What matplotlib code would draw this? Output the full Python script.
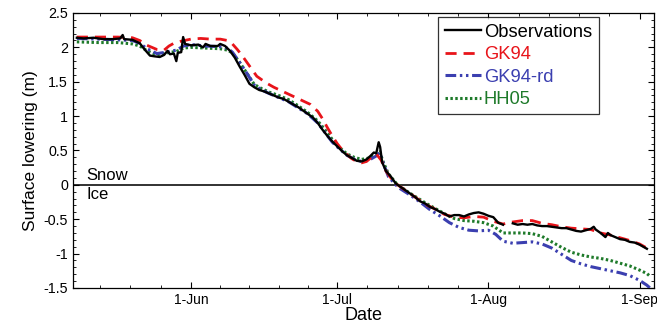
import numpy as np
import matplotlib.pyplot as plt
from matplotlib.ticker import FixedLocator, MultipleLocator

plt.rcParams['font.family'] = ['Liberation Sans', 'DejaVu Sans']

# day of year (non-leap) and surface lowering (m)
obs_day = [128.6, 130, 132, 134, 136, 137.5, 138.0, 138.3, 140, 141.5, 142.5, 143.6, 144.5,
           145.6, 146.5, 147.2, 147.7, 148.5, 149.0, 149.3, 150.0, 150.4, 150.8, 152, 153.5,
           154.5, 155, 156, 157.5, 158, 159, 160, 161, 162, 163, 164, 165, 166, 167, 168, 169,
           170, 171, 172, 173, 174, 175, 176, 177, 178, 179, 180, 181, 182, 183, 184, 185, 186,
           187, 188, 188.8, 189.5, 190.0, 190.5, 190.8, 191.2, 192, 193, 194, 195, 196, 197,
           198, 199, 200, 201, 202, 203, 204, 205, 206, 207, 208, 209, 210, 211, 212, 213, 214,
           215, 216, 216.5, 218, 219, 220, 221, 222, 223, 224, 225, 226, 227, 228, 229, 230,
           231, 232, 233, 234, 234.6, 235, 236, 237, 237.5, 238, 239, 240, 241, 242, 243, 244,
           245, 245.5]
obs_val = [2.14, 2.13, 2.14, 2.12, 2.12, 2.13, 2.18, 2.12, 2.11, 2.06, 1.97, 1.88, 1.87,
           1.86, 1.89, 1.95, 1.90, 1.91, 1.80, 1.92, 1.93, 2.15, 2.05, 2.03, 2.04,
           2.00, 2.05, 2.02, 2.02, 2.05, 2.02, 1.95, 1.85, 1.72, 1.60, 1.47, 1.42, 1.38, 1.36,
           1.33, 1.30, 1.27, 1.25, 1.21, 1.17, 1.13, 1.08, 1.03, 0.98, 0.90, 0.80, 0.71, 0.63,
           0.56, 0.49, 0.43, 0.39, 0.35, 0.34, 0.37, 0.42, 0.47, 0.46, 0.62, 0.55, 0.33, 0.20,
           0.12, 0.02, -0.03, -0.08, -0.13, -0.18, -0.24, -0.27, -0.32, -0.35, -0.39, -0.42,
           -0.46, -0.44, -0.44, -0.46, -0.43, -0.41, -0.40, -0.42, -0.45, -0.47, -0.55, -0.58,
           np.nan, -0.56, -0.58, -0.57, -0.58, -0.57, -0.59, -0.60, -0.60, -0.61, -0.62, -0.63,
           -0.63, -0.65, -0.67, -0.68, -0.66, -0.64, -0.61, -0.65, -0.70, -0.76, -0.70, -0.73,
           -0.76, -0.79, -0.80, -0.83, -0.84, -0.87, -0.91, -0.93]

gk_day = [128.6, 133, 137, 140, 141.5, 143, 145, 146.5, 147.5, 148.5, 150, 152, 154, 156, 158,
          159.5, 160.5, 161.5, 162.5, 163.5, 164.5, 165.5, 166.5, 167.5, 169, 170.5, 172, 173.5,
          175, 176.5, 178, 179, 180, 181, 182, 183, 184, 185, 186, 187, 188, 189, 190, 191, 192,
          193, 194, 196, 198, 200, 202, 204, 206, 208, 210, 212, 214, 216, 218, 220, 222, 224,
          226, 228, 230, 232, 234, 236, 238, 240, 242, 244, 245.5]
gk_val = [2.15, 2.15, 2.15, 2.14, 2.10, 2.03, 1.97, 1.96, 2.02, 2.06, 2.09, 2.12, 2.13, 2.12,
          2.12, 2.10, 2.05, 1.97, 1.88, 1.78, 1.68, 1.58, 1.53, 1.48, 1.42, 1.37, 1.32, 1.27,
          1.22, 1.17, 1.07, 0.96, 0.83, 0.71, 0.60, 0.51, 0.44, 0.38, 0.34, 0.32, 0.34, 0.40,
          0.45, 0.36, 0.20, 0.10, 0.02, -0.08, -0.18, -0.28, -0.35, -0.43, -0.47, -0.48, -0.46,
          -0.47, -0.53, -0.57, -0.54, -0.52, -0.52, -0.56, -0.58, -0.61, -0.63, -0.64, -0.65,
          -0.70, -0.73, -0.77, -0.81, -0.86, -0.92]

rd_day = [128.6, 133, 137, 140, 141.5, 143, 145, 147, 149, 150.5, 152, 155, 158, 159.5, 160.5,
          162, 163.5, 165, 166.5, 168, 170, 172, 174, 176, 178, 179.5, 181, 182.5, 184, 185.5,
          187, 188.5, 190, 190.7, 191.5, 192.5, 194, 195, 197, 199, 201, 203, 205, 207, 209,
          211, 213, 214.5, 216, 218, 220, 222, 224, 226, 228, 230, 232, 234, 236, 238, 240,
          242, 244, 245.5, 246.6]
rd_val = [2.13, 2.12, 2.11, 2.10, 2.06, 1.98, 1.91, 1.93, 1.96, 2.02, 2.04, 2.02, 2.01, 1.99,
          1.93, 1.78, 1.62, 1.45, 1.38, 1.33, 1.27, 1.21, 1.12, 1.03, 0.90, 0.76, 0.62, 0.52,
          0.43, 0.37, 0.34, 0.36, 0.42, 0.47, 0.30, 0.12, 0.00, -0.06, -0.15, -0.25, -0.36,
          -0.45, -0.55, -0.62, -0.66, -0.67, -0.66, -0.72, -0.82, -0.85, -0.84, -0.83, -0.86,
          -0.92, -1.01, -1.10, -1.15, -1.19, -1.22, -1.25, -1.28, -1.32, -1.39, -1.46, -1.53]

hh_day = [128.6, 133, 137, 140, 141.5, 143, 145, 147, 149, 150.5, 152, 155, 158, 159.5, 160.5,
          162, 163.5, 165, 166.5, 168, 170, 172, 174, 176, 178, 179.5, 181, 182.5, 184, 185.5,
          187, 188.5, 190, 190.7, 191.5, 192.5, 194, 196, 198, 200, 202, 204, 206, 208, 210,
          212, 214, 216, 218, 220, 222, 224, 226, 228, 230, 232, 234, 236, 238, 240, 242, 244,
          245.5, 246.3]
hh_val = [2.08, 2.07, 2.07, 2.05, 2.02, 1.95, 1.89, 1.92, 1.94, 1.99, 2.00, 1.99, 1.98, 1.96,
          1.92, 1.78, 1.62, 1.46, 1.40, 1.35, 1.30, 1.24, 1.15, 1.05, 0.93, 0.80, 0.66, 0.54,
          0.45, 0.40, 0.37, 0.39, 0.44, 0.48, 0.32, 0.16, 0.03, -0.08, -0.17, -0.26, -0.34,
          -0.42, -0.49, -0.52, -0.53, -0.55, -0.60, -0.70, -0.70, -0.70, -0.71, -0.75, -0.83,
          -0.91, -0.98, -1.02, -1.05, -1.07, -1.10, -1.14, -1.18, -1.24, -1.29, -1.34]

month_starts = [121, 152, 182, 213, 244, 274]
tick_labels = ['1-Jun', '1-Jul', '1-Aug', '1-Sep']

fig = plt.figure(figsize=(6.57, 3.25), dpi=100)
ax = fig.add_axes([0.111, 0.114, 0.884, 0.846])

ax.axhline(0, color='#222222', lw=1.3, zorder=1)
ax.plot(hh_day, hh_val, color='#1e7a2a', lw=2.2, ls=(0, (0.8, 0.8)), label='HH05', zorder=2)
ax.plot(rd_day, rd_val, color='#3b3fb0', lw=2.2, ls=(0, (3.5, 1.2, 0.8, 1.2, 0.8, 1.2)),
        label='GK94-rd', zorder=3)
ax.plot(gk_day, gk_val, color='#e8141a', lw=2.0, ls=(0, (4, 2.5)), label='GK94', zorder=4)
ax.plot(obs_day, obs_val, color='black', lw=1.7, label='Observations', zorder=5)

ax.set_xlim(127.8, 246.9)
ax.set_ylim(-1.5, 2.5)
ax.set_xticks(month_starts[1:5])
ax.set_xticklabels(tick_labels)
minor = []
for a, b in zip(month_starts[:-1], month_starts[1:]):
    minor += [a + k * (b - a) / 5 for k in range(1, 5)]
ax.xaxis.set_minor_locator(FixedLocator(minor))
ax.yaxis.set_major_locator(MultipleLocator(0.5))
ax.yaxis.set_minor_locator(MultipleLocator(0.1))
ax.set_yticklabels([f'{v:g}' for v in ax.get_yticks()])
ax.tick_params(which='both', direction='in', top=True, right=True, labelsize=10.3)
ax.tick_params(axis='x', labelsize=10)
ax.tick_params(which='major', length=4)
ax.tick_params(which='minor', length=2)
for s in ax.spines.values():
    s.set_linewidth(0.9)

ax.text(130.5, 0.03, 'Snow', fontsize=12, va='bottom', ha='left')
ax.text(130.5, -0.03, 'Ice', fontsize=12, va='top', ha='left')

ax.set_xlabel('Date', fontsize=13, labelpad=0)
ax.set_ylabel('Surface lowering (m)', fontsize=12.5)

handles, labels = ax.get_legend_handles_labels()
order = [3, 2, 1, 0]
leg = ax.legend([handles[i] for i in order], [labels[i] for i in order],
                loc='upper right', bbox_to_anchor=(0.905, 0.985), fontsize=13.2,
                frameon=True, fancybox=False, edgecolor='black', handlelength=2.0,
                handletextpad=0.15, borderpad=0.35, labelspacing=0.3, borderaxespad=0)
leg.get_frame().set_linewidth(0.9)
for txt, line in zip(leg.get_texts(), leg.get_lines()):
    txt.set_color(line.get_color())

fig.savefig('out.png', dpi=100)
